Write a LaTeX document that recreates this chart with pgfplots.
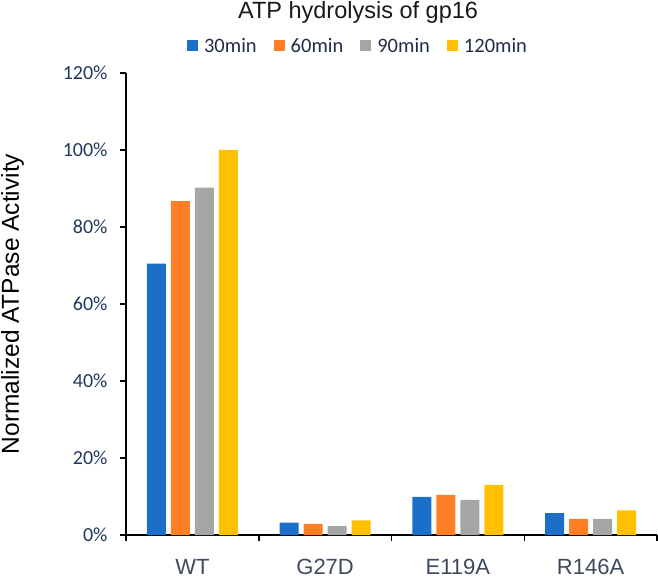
\documentclass[border=0pt]{standalone}
\usepackage{pgfplots}
\pgfplotsset{compat=1.18}
\usepackage{fontspec}
\setmainfont{Liberation Sans}
\newfontfamily\calibri{Carlito}
\definecolor{cBlue}{HTML}{1C6FC8}
\definecolor{cOrange}{HTML}{FF7F27}
\definecolor{cGray}{HTML}{A6A6A6}
\definecolor{cYellow}{HTML}{FFC000}
\definecolor{tickcol}{HTML}{22395E}
\definecolor{catcol}{HTML}{3E4A5C}
\definecolor{legcol}{HTML}{1F2D4A}
\begin{document}
\begin{tikzpicture}
\begin{axis}[
  scale only axis,
  width=531bp, height=462bp,
  ybar=5bp, bar width=19bp,
  xmin=-0.5, xmax=3.5,
  ymin=0, ymax=120,
  axis x line*=bottom, axis y line*=left,
  axis line style={line width=1.5bp, black},
  xtick={0,1,2,3},
  xticklabels={WT,G27D,E119A,R146A},
  minor xtick={-0.5,0.5,1.5,2.5,3.5},
  major x tick style={draw=none},
  minor x tick style={line width=1.5bp, black},
  minor tick length=6bp,
  tick align=outside,
  ytick={0,20,40,60,80,100,120},
  yticklabels={0\%,20\%,40\%,60\%,80\%,100\%,120\%},
  y tick style={line width=1.5bp, black},
  major tick length=6bp,
  yticklabel style={font=\calibri\fontsize{20bp}{23bp}\selectfont, text=tickcol, xshift=-9bp},
  xticklabel style={font=\fontsize{22bp}{25bp}\selectfont, text=catcol, anchor=base, yshift=-33bp},
  ylabel={Normalized ATPase Activity},
  ylabel style={font=\fontsize{24.5bp}{27bp}\selectfont, at={(axis description cs:0,0.5)}, anchor=center, yshift=113.4bp, inner sep=0pt, text=black},
  title={ATP hydrolysis of gp16},
  title style={font=\fontsize{23.5bp}{27bp}\selectfont, at={(axis description cs:0.437,1)}, anchor=base, yshift=49bp, inner sep=0pt, text=black!90},
  legend columns=4,
  legend style={draw=none, fill=none, at={(axis description cs:0.437,1)}, anchor=center, yshift=27bp,
    font=\calibri\fontsize{20.5bp}{23bp}\selectfont, text=legcol,
    /tikz/every odd column/.append style={column sep=4bp},
    /tikz/every even column/.append style={column sep=15bp},
    nodes={inner sep=2bp}},
  legend image code/.code={\fill[#1] (0bp,-5.5bp) rectangle (11bp,5.5bp);},
  clip=false,
]
\addplot[fill=cBlue, draw=none] coordinates {(0,70.5) (1,3.2) (2,9.9) (3,5.7)};
\addplot[fill=cOrange, draw=none] coordinates {(0,86.7) (1,2.9) (2,10.4) (3,4.2)};
\addplot[fill=cGray, draw=none] coordinates {(0,90.2) (1,2.3) (2,9.1) (3,4.2)};
\addplot[fill=cYellow, draw=none] coordinates {(0,100) (1,3.8) (2,13.0) (3,6.4)};
\legend{30min,60min,90min,120min}
\end{axis}
\pgfresetboundingbox
\path ([shift={(-126bp,-44bp)}]current axis.south west) rectangle ([shift={(1bp,73bp)}]current axis.north east);
\end{tikzpicture}
\end{document}
